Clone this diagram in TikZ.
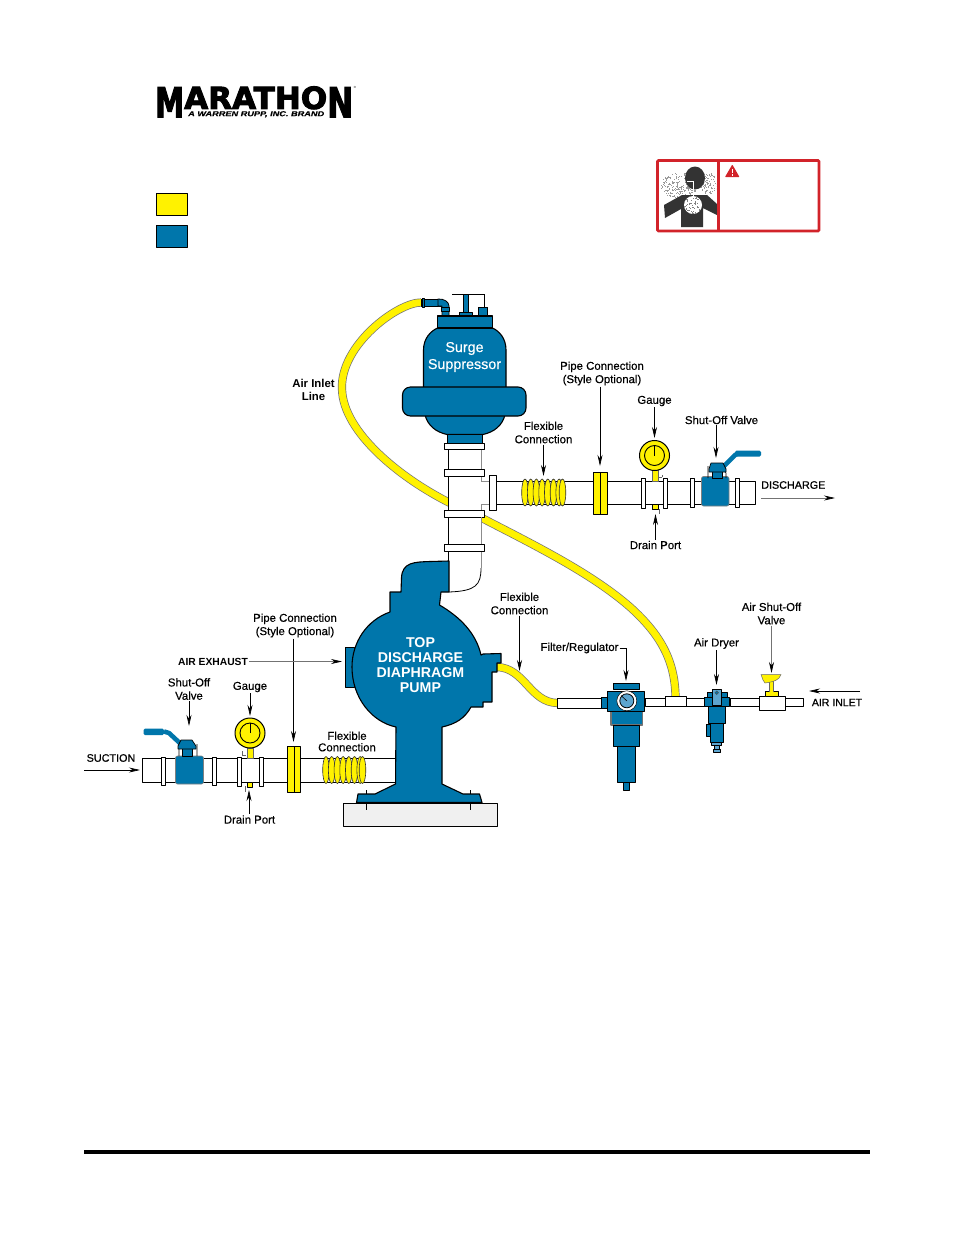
\documentclass[tikz,border=0pt]{standalone}
\usepackage{graphicx}
\usepackage{fontspec}
\setmainfont{Liberation Sans}
\newfontfamily\logofont[FakeBold=3]{DejaVu Sans Bold}
\newfontfamily\logosub[FakeBold=0.5]{Liberation Sans Bold Italic}
\newfontfamily\labelfont[FakeBold=0.35]{Liberation Sans}
\newfontfamily\capsfont[FakeBold=0.8]{Liberation Sans}
\usetikzlibrary{arrows.meta}
\definecolor{pumpblue}{HTML}{0076AB}
\definecolor{lightblue}{HTML}{5DA5CF}
\definecolor{hoseyellow}{HTML}{FFF200}
\definecolor{alertred}{HTML}{D2232A}
\definecolor{figure}{HTML}{333333}
\tikzset{
  x=1pt,y=-1pt,
  part/.style={draw=black,line width=1pt,line join=round},
  bluepart/.style={part,fill=pumpblue},
  palepart/.style={part,fill=lightblue},
  whitepart/.style={part,fill=white},
  yellowpart/.style={part,fill=hoseyellow},
  hose/.style={draw=black!55,line width=.7pt,double=hoseyellow,double distance=6.8pt},
  coil/.style={draw=black!80,line width=.6pt,fill=hoseyellow},
  lbl/.style={font=\labelfont\fontsize{11.4}{13.3}\selectfont,align=center,inner sep=1pt,text=black},
  capslbl/.style={lbl,font=\capsfont\fontsize{10.8}{13}\selectfont},
  boldlbl/.style={lbl,font=\bfseries\fontsize{11.4}{13}\selectfont},
  onblue/.style={align=center,inner sep=0pt,text=white},
  pointer/.style={draw=black,line width=.7pt,-{Stealth[black,length=11pt,width=5pt]}},
  graypointer/.style={pointer,draw=black!55},
}
\begin{document}
\begin{tikzpicture}
\useasboundingbox (0,0) rectangle (954,1235);
\fill[white] (0,0) rectangle (954,1235);

% Brand mark
\node[anchor=south west,inner sep=0] (logoM) at (155,117.5) {\resizebox{29pt}{30pt}{\logofont M}};
\node[anchor=south west,inner sep=0] (logoMid) at (184,109.5) {\resizebox{143pt}{22.5pt}{\logofont ARATHO}};
\node[anchor=south west,inner sep=0] (logoN) at (327,117.5) {\resizebox{26pt}{30pt}{\logofont N}};
\node[anchor=south west,inner sep=0] (logoSub) at (188,117.5) {\resizebox{136pt}{5pt}{\logosub A WARREN RUPP, INC. BRAND}};
\node[inner sep=0,font=\fontsize{3}{3}\selectfont] (logoReg) at (355,87) {®};

% Colour key
\draw[yellowpart] (156.5,193.5) rectangle (187.5,215);
\draw[bluepart] (156.5,225.5) rectangle (187.5,247);

% Hazard panel
\begin{scope}
  \clip (660,163) rectangle (716,228);
  \pgfmathsetseed{42}
  \foreach \i in {1,...,300}{
    \pgfmathsetmacro{\ang}{rnd*360}
    \pgfmathsetmacro{\rad}{sqrt(rnd)}
    \pgfmathsetmacro{\side}{rnd<.68?1:0}
    \pgfmathsetmacro{\cx}{\side>.5?679:708}
    \pgfmathsetmacro{\cy}{\side>.5?185:183}
    \pgfmathsetmacro{\rx}{\side>.5?19:9}
    \pgfmathsetmacro{\ry}{\side>.5?13:11}
    \fill[black!40] ({\cx+\rad*\rx*cos(\ang)},{\cy+\rad*\ry*sin(\ang)}) rectangle +(1.1,1.1);
  }
\end{scope}
\fill[figure] (695,178) ellipse (10 and 11.5);
\fill[figure] (664,205) -- (682,195) -- (707,195) -- (717,204) -- (717,215) -- (703,208)
  -- (703,227) -- (681,227) -- (681,209) -- (665,218) -- cycle;
\fill[white] (693,205) circle (9);
\draw[white,line width=.8pt] (687,181) -- (693,181) -- (693,196);
\begin{scope}
  \clip (693,205) circle (9);
  \foreach \i in {1,...,70}{
    \fill[black!50] ({684+18*rnd},{196+18*rnd}) rectangle +(1.1,1.1);
  }
\end{scope}
\draw[alertred,line width=2.6pt,rounded corners=1pt] (657.5,160.5) rectangle (819,231);
\draw[alertred,line width=2.6pt] (718.5,160.5) -- (718.5,231);
\fill[alertred,rounded corners=.6pt] (732.3,164.5) -- (739.5,177) -- (725,177) -- cycle;
\fill[white] (731.6,168.5) rectangle (733,173.2);
\fill[white] (731.6,174) rectangle (733,175.6);

% Compressed-air hose from the regulator line up to the suppressor
\draw[hose] (421.5,302.5) .. controls (398,302) and (340,345) .. (342,389)
  .. controls (343,432) and (400,478) .. (450,503);
\draw[hose] (478,516) .. controls (530,543) and (590,572) .. (630,607)
  .. controls (660,634) and (675,660) .. (675.5,697);

% Surge suppressor fittings
\draw[bluepart,line width=.8pt] (421,299.5) rectangle (441,306);
\draw[bluepart,line width=.8pt] (422,298.5) rectangle (424.5,307);
\draw[bluepart,line width=.8pt] (438,299) .. controls (444,298.5) and (449,302) .. (449,306)
  -- (449,316.5) -- (442,316.5) -- (442,306) -- (438,306) -- cycle;
\draw[bluepart,line width=.8pt] (441.5,307.5) rectangle (449.5,311);
\draw[black,line width=.7pt] (452,294.5) -- (484.5,294.5) -- (484.5,308);
\draw[bluepart,line width=.8pt] (463,294.5) rectangle (468,312.5);
\draw[bluepart,line width=.8pt] (459.5,312.5) rectangle (472,316.5);
\draw[bluepart,line width=.8pt] (478.5,307) rectangle (487.5,316.5);

% Surge suppressor vessel
\draw[bluepart,line width=1.1pt] (423.5,388) -- (423.5,350) .. controls (423.5,338) and (431,331) .. (437.5,328)
  -- (492.5,328) .. controls (499,331) and (506,338) .. (506,350) -- (506,388) -- cycle;
\draw[bluepart,line width=1.1pt] (437.5,316) rectangle (492.5,328);
\draw[bluepart,line width=1.1pt] (425,415) .. controls (428,426) and (436,432) .. (447,434.5)
  -- (483,434.5) .. controls (494,432) and (502,426) .. (505,415) -- cycle;
\draw[bluepart,line width=1.1pt] (447.5,434.5) rectangle (482.5,444);
\draw[bluepart,line width=1.1pt,rounded corners=8pt] (402.5,387) rectangle (526,416);
\node[onblue,font=\labelfont\fontsize{14.3}{17}\selectfont] (surgeText) at (464.5,357) {Surge\\Suppressor};

% Discharge tee and piping
\fill[white] (448.5,449) rectangle (481,545);
\draw[part] (448.5,449) -- (448.5,517);
\draw[black!45,line width=1pt] (481,449) -- (481,469);
\draw[whitepart] (481,481) rectangle (755.5,504.5);
\draw[draw=none,fill=white] (478,482) rectangle (489,504);
\draw[black!45,line width=1pt] (481,476) -- (481,481) -- (489,481) (489,504) -- (481,504) -- (481,510);
\draw[whitepart] (444.5,443.5) rectangle (484.5,449.5);
\draw[whitepart] (444.5,469.5) rectangle (484.5,476);
\draw[whitepart] (444.5,510.5) rectangle (484.5,517);
\draw[whitepart] (489.5,475.5) rectangle (496,510);

% Discharge flexible section
\foreach \cx in {525,530.7,536.4,542.1,547.8,553.5,559.2,562.5}{
  \draw[coil] (\cx,492.5) ellipse (3.3 and 13.5);
}
% Discharge flange
\draw[yellowpart] (593.5,472.5) rectangle (607,514);
\draw[black,line width=.8pt] (600,472.5) -- (600,514);

% Discharge gauge, drain and unions
\draw[yellowpart,draw=black!60,line width=.5pt] (652,470) rectangle (658,481);
\draw[yellowpart,line width=.7pt] (652,504.5) rectangle (658,509.5);
\draw[black!60,line width=.6pt] (662,475) -- (662,477) (659,477) -- (662,477) (659,509) -- (659,514);
\draw[yellowpart] (654.5,455.5) circle (15);
\draw[draw=black,line width=.9pt,fill=none] (654.5,455.5) circle (10);
\draw[black,line width=.7pt] (654.5,455.5) -- (654.5,445);
\draw[whitepart] (641.5,478.5) rectangle (645.5,508);
\draw[whitepart] (663.5,478.5) rectangle (667.5,508);
\draw[whitepart] (690.5,478.5) rectangle (694.5,507);
\draw[whitepart] (735,478.5) rectangle (739.5,507);

% Discharge ball valve
\draw[bluepart,line width=.6pt,draw=black!50,rounded corners=2pt] (701.5,476.5) rectangle (729,506);
\draw[black,line width=.6pt] (708,478) -- (708,466) (726,478) -- (726,473) -- (724,471);
\draw[pumpblue,line width=4.6pt,line join=round] (721,469) -- (735,455) -- (738,453.5);
\draw[bluepart,line width=.7pt] (712,467) rectangle (722,478);
\draw[bluepart,line width=.7pt] (709,469) -- (711,463) -- (723,463) -- (726,469) -- (726,472) -- (709,472) -- cycle;
\fill[pumpblue,rounded corners=1.5pt] (735,450.5) rectangle (761,456.5);

% Lower pipe into the pump outlet
\fill[white] (448.5,551) -- (481,551) -- (481,568) .. controls (481,585) and (476,590) .. (449,592) -- cycle;
\draw[part] (448.5,517) -- (448.5,561);
\draw[black!45,line width=1pt] (481,517) -- (481,544) (481,551) -- (481,568);
\draw[black,line width=.8pt] (481,568) .. controls (481,585) and (476,591) .. (449,592);

% Air hose from the pump to the filter
\draw[hose] (497,667) .. controls (525,668) and (530,703) .. (558,703);

% Pump casing
\draw[bluepart,line width=1pt] (345.5,647.5) rectangle (354,687);
\draw[bluepart,line width=1.1pt] (449,561) -- (430,561.5) .. controls (415,562) and (402,562) .. (401.5,578)
  -- (401,592) -- (390,592) -- (390,612)
  .. controls (367,620) and (352,642) .. (352,667)
  .. controls (352,698) and (372,722) .. (396,727)
  -- (395.5,784) -- (375,794) -- (358,794) -- (356.5,802.5) -- (482,802.5) -- (479.5,794)
  -- (463,794) -- (442,784) -- (442,727)
  .. controls (456,724) and (465,718) .. (471,707) -- (483,707) -- (483,702) -- (492,702)
  -- (492,672) -- (497,672) -- (497,663) -- (501,663) -- (501,653.5) -- (483,654) -- (481,655)
  .. controls (476,633) and (460,617) .. (439.5,605) -- (441,592) -- (449,592) -- cycle;
\node[onblue,font=\bfseries\fontsize{14.2}{15}\selectfont] (pumpText) at (420.5,665.5)
  {TOP\\DISCHARGE\\DIAPHRAGM\\PUMP};

% Pump base
\draw[part,fill=black!6] (343.5,803.5) rectangle (497.5,826);
\draw[black,line width=.7pt] (366.5,790) -- (366.5,794) (366.5,803.5) -- (366.5,810) (470.5,790) -- (470.5,794) (470.5,803.5) -- (470.5,810);
\draw[black,line width=1.6pt] (356.5,802.5) -- (482,802.5);

% Collar on the pump outlet elbow
\draw[whitepart] (444.5,544.5) rectangle (484.5,551);

% Suction piping
\draw[whitepart] (142.5,758.5) rectangle (395.5,782);
\foreach \cx in {326,331.7,337.4,343.1,348.8,354.5,360.2,362.5}{
  \draw[coil] (\cx,770) ellipse (3.3 and 13.5);
}
\draw[whitepart] (161.5,757) rectangle (165.5,785.5);
\draw[whitepart] (212.5,757) rectangle (216.5,785.5);
\draw[yellowpart,draw=black!60,line width=.5pt] (247,748) rectangle (253,758.5);
\draw[yellowpart,line width=.7pt] (247.5,782) rectangle (252.5,787);
\draw[black!60,line width=.6pt] (242.5,751) -- (242.5,755) -- (246,755) (245,786) -- (245,792);
\draw[whitepart] (237.5,757) rectangle (241.5,786);
\draw[whitepart] (259.5,757) rectangle (263.5,786);
\draw[yellowpart] (287.5,746.5) rectangle (300.5,792.5);
\draw[black,line width=.8pt] (294,746.5) -- (294,792.5);
\draw[yellowpart] (250,733) circle (15);
\draw[draw=black,line width=.9pt,fill=none] (250,733) circle (10);
\draw[black,line width=.7pt] (250,733) -- (250,723);

% Suction ball valve
\draw[bluepart,line width=.6pt,draw=black!50,rounded corners=2pt] (175.5,756) rectangle (203.5,784);
\draw[black,line width=.6pt] (179,756) -- (179,748) -- (181,746) (197,756) -- (197,744);
\draw[pumpblue,line width=4.6pt,line join=round] (183,746) -- (169,733) -- (164,731.5);
\draw[bluepart,line width=.7pt] (182,745) rectangle (192,756);
\draw[bluepart,line width=.7pt] (178,746) -- (181,740) -- (192,740) -- (196,746) -- (196,749) -- (178,749) -- cycle;
\fill[pumpblue,rounded corners=1.5pt] (143.5,728.5) rectangle (164,735);

% Air line, filter/regulator side
\draw[whitepart] (557.5,698.5) rectangle (602,708);
\draw[whitepart] (645,698.5) rectangle (665.5,706);
\draw[whitepart] (665,696.5) rectangle (686.5,706);
\draw[whitepart] (686.5,698.5) rectangle (705,706);
\draw[whitepart] (730,698.5) rectangle (760,706);
\draw[whitepart] (759.5,696.5) rectangle (785.5,710);
\draw[whitepart] (785.5,698.5) rectangle (803.5,706);

% Filter/regulator
\draw[bluepart] (601.5,697) rectangle (607.5,708);
\draw[bluepart] (613.5,683.5) rectangle (639.5,689.5);
\draw[bluepart] (623.5,782) rectangle (629.5,790);
\draw[bluepart] (617.5,746) rectangle (635.5,782);
\draw[bluepart,draw=black!55,line width=1.2pt] (611,711) rectangle (642.5,725);
\draw[bluepart] (613.5,725) rectangle (639,746);
\draw[bluepart] (607.5,691.5) rectangle (644.5,711);
\draw[draw=black,line width=.5pt,fill=white] (626.8,700.8) circle (10);
\draw[palepart,line width=.8pt] (626.8,700.8) circle (7);
\draw[black,line width=.6pt] (621,695.5) -- (627,701);

% Air dryer
\draw[bluepart] (706,724) rectangle (710.5,736);
\draw[palepart] (711.5,742) rectangle (721.5,745);
\draw[palepart,line width=.7pt] (714,745) rectangle (719.5,749);
\draw[palepart,line width=.7pt] (713.5,749) rectangle (720.5,752.5);
\draw[bluepart] (710.5,723.5) rectangle (723.5,742);
\draw[bluepart] (708.5,706) rectangle (725,723.5);
\draw[bluepart] (707.5,692.5) rectangle (727.5,697.5);
\draw[bluepart] (704.5,697.5) rectangle (729.5,706);
\draw[palepart,line width=.7pt] (712.5,689.5) rectangle (721.5,705);
\draw[draw=black!70,fill=pumpblue,line width=.5pt] (716.7,692.7) circle (1.8);

% Air shut-off valve knob
\draw[yellowpart,line width=.7pt] (765,691.5) rectangle (778.5,696.5);
\fill[hoseyellow] (769,680) rectangle (773,691.5);
\draw[black!60,line width=.5pt] (769,682) -- (769,691.5) (773,681) -- (773,691.5);
\fill[hoseyellow,draw=black!60,line width=.5pt] (761,674.5) -- (781,674.5) -- (779,678) .. controls (776,681) and (772,682) .. (765,683) -- (763,680) -- cycle;

% Pointer ends
\coordinate (tipPipeTop) at (600,466);
\coordinate (tipGaugeTop) at (654.5,438);
\coordinate (tipValveTop) at (716,458);
\coordinate (tipFlexTop) at (543.5,476);
\coordinate (tipDrainTop) at (655.5,514);
\coordinate (tipDischarge) at (835,498);
\coordinate (tailDischarge) at (761,498);
\coordinate (tipFlexPump) at (519.5,671);
\coordinate (tipPipeLow) at (293.5,742);
\coordinate (tipExhaust) at (342,661.5);
\coordinate (tipValveLow) at (189,726);
\coordinate (tipGaugeLow) at (250,716);
\coordinate (tipDrainLow) at (249,790);
\coordinate (tipSuction) at (140,770);
\coordinate (tailSuction) at (84,770);
\coordinate (tipFilter) at (626,681);
\coordinate (tipDryer) at (716.5,685);
\coordinate (tipShutOff) at (771.5,673);
\coordinate (tipAirIn) at (809,691);
\coordinate (tailAirIn) at (860,691);

% Labels
\node[boldlbl] (lblAirLine) at (313.5,389.5) {Air Inlet\\Line};
\node[lbl] (lblPipeTop) at (602,373.5) {Pipe Connection\\(Style Optional)};
\node[lbl] (lblGaugeTop) at (654.5,401) {Gauge};
\node[lbl] (lblValveTop) at (721.5,420) {Shut-Off Valve};
\node[lbl] (lblFlexTop) at (543.5,432.5) {Flexible\\Connection};
\node[capslbl,anchor=west] (lblDischarge) at (760,485) {DISCHARGE};
\node[lbl] (lblDrainTop) at (655.5,545) {Drain Port};
\node[lbl] (lblFlexPump) at (519.5,603.5) {Flexible\\Connection};
\node[lbl] (lblPipeLow) at (295,625.5) {Pipe Connection\\(Style Optional)};
\node[boldlbl,font=\bfseries\fontsize{10.3}{12}\selectfont] (lblExhaust) at (213,661.5) {AIR EXHAUST};
\node[lbl] (lblValveLow) at (189,689) {Shut-Off\\Valve};
\node[lbl] (lblGaugeLow) at (250,687) {Gauge};
\node[lbl,font=\labelfont\fontsize{11.4}{11.5}\selectfont] (lblFlexLow) at (347,741.5) {Flexible\\Connection};
\node[capslbl] (lblSuction) at (111,758) {SUCTION};
\node[lbl] (lblDrainLow) at (249.5,819.5) {Drain Port};
\node[lbl] (lblFilter) at (579.5,648) {Filter/Regulator};
\node[lbl] (lblDryer) at (716.5,643.5) {Air Dryer};
\node[lbl] (lblShutOff) at (771.5,613.5) {Air Shut-Off\\Valve};
\node[capslbl,font=\capsfont\fontsize{10.5}{13}\selectfont] (lblAirIn) at (837,702.5) {AIR INLET};

% Pointers
\draw[pointer] (tipPipeTop |- lblPipeTop.south) -- (tipPipeTop);
\draw[pointer] (lblGaugeTop.south -| tipGaugeTop) -- (tipGaugeTop);
\draw[pointer] (tipValveTop |- lblValveTop.south) -- (tipValveTop);
\draw[pointer] (lblFlexTop.south) -- (tipFlexTop);
\draw[pointer] (lblDrainTop.north -| tipDrainTop) -- (tipDrainTop);
\draw[graypointer] (tailDischarge) -- (tipDischarge);
\draw[pointer] (lblFlexPump.south -| tipFlexPump) -- (tipFlexPump);
\draw[pointer] (tipPipeLow |- lblPipeLow.south) -- (tipPipeLow);
\draw[graypointer] (lblExhaust.east) -- (tipExhaust);
\draw[pointer] (lblValveLow.south -| tipValveLow) -- (tipValveLow);
\draw[pointer] (lblGaugeLow.south -| tipGaugeLow) -- (tipGaugeLow);
\draw[pointer] (lblDrainLow.north -| tipDrainLow) -- (tipDrainLow);
\draw[pointer] (tailSuction) -- (tipSuction);
\draw[pointer] (lblFilter.east) -| (tipFilter);
\draw[pointer] (lblDryer.south -| tipDryer) -- (tipDryer);
\draw[graypointer] (lblShutOff.south -| tipShutOff) -- (tipShutOff);
\draw[pointer] (tailAirIn) -- (tipAirIn);

% Footer rule
\fill[black] (84,1150) rectangle (870,1154);
\end{tikzpicture}
\end{document}
